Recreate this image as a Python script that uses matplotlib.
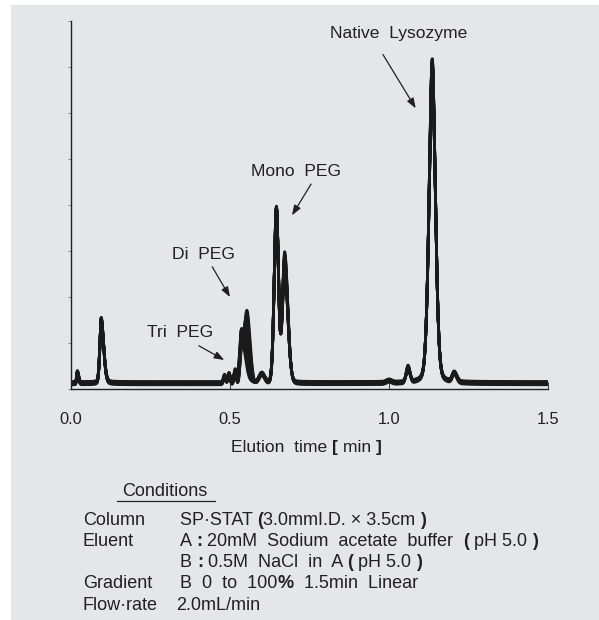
import numpy as np
import matplotlib.pyplot as plt
from matplotlib.patches import Rectangle
from matplotlib.lines import Line2D

plt.rcParams['font.family'] = ['Liberation Sans', 'DejaVu Sans']

INK = '#231f20'
PANEL = '#e5e6e8'

# peaks common to every run: center [min], left/right width, height, lorentz share
fixed_center = [0.020, 0.095, 0.483, 0.497, 0.516, 0.535, 0.600, 0.646, 1.000, 1.205]
fixed_wl = [0.0022, 0.0045, 0.0035, 0.0035, 0.0035, 0.0040, 0.0085, 0.0070, 0.0080, 0.0060]
fixed_wr = [0.0040, 0.0080, 0.0035, 0.0035, 0.0035, 0.0040, 0.0085, 0.0065, 0.0080, 0.0080]
fixed_h = [0.24, 1.40, 0.16, 0.20, 0.25, 0.48, 0.20, 3.80, 0.05, 0.20]
fixed_eta = [0.0, 0.25, 0.0, 0.0, 0.0, 0.0, 0.0, 0.10, 0.0, 0.0]

# run-to-run values (one entry per overlaid chromatogram)
baseline = [0.08, 0.09, 0.10, 0.11, 0.11, 0.12, 0.12, 0.13, 0.14, 0.15]
di_peg_t = [0.553, 0.552, 0.551, 0.549, 0.548, 0.546, 0.545, 0.543, 0.542, 0.540]
di_peg_h = [1.62, 1.52, 1.42, 1.32, 1.22, 1.12, 1.02, 0.92, 0.82, 0.74]
mono2_h = [2.88, 2.82, 2.76, 2.70, 2.64, 2.58, 2.53, 2.48, 2.43, 2.38]
native_h = [7.10, 7.08, 7.06, 7.02, 6.98, 6.96, 6.92, 6.88, 6.84, 6.80]
shoulder_h = [0.40, 0.37, 0.35, 0.33, 0.31, 0.29, 0.27, 0.25, 0.23, 0.21]

x_ticks = [0.0, 0.5, 1.0, 1.5]
x_ticklabels = ['0.0', '0.5', '1.0', '1.5']

labels = ['Native  Lysozyme', 'Mono  PEG', 'Di  PEG', 'Tri  PEG']
label_xy = [(1.031, 7.72), (0.708, 4.72), (0.418, 2.91), (0.343, 1.22)]
arrow_tail = [(0.981, 7.27), (0.755, 4.45), (0.444, 2.65), (0.402, 0.93)]
arrow_head = [(1.084, 6.10), (0.695, 3.77), (0.500, 1.99), (0.482, 0.62)]

SIZE = 12.6
COND_SIZE = 13


def peak(t, c, wl, wr, h, eta=0.0):
    w = np.where(t < c, wl, wr)
    z = (t - c) / w
    return h * ((1 - eta) * np.exp(-0.5 * z ** 2) + eta / (1 + (z * 1.177) ** 2))


def chain(x_px, y_px, parts, size=SIZE):
    # text pieces laid left to right so single glyphs can be bold
    prev = None
    for s, weight in parts:
        if prev is None:
            prev = fig.text(x_px / 599, 1 - y_px / 620, s, fontsize=size, color=INK,
                            fontweight=weight, ha='left', va='baseline')
        else:
            prev = fig.add_artist(plt.Annotation(
                s, xy=(1, 0), xycoords=prev, xytext=(0, 0), textcoords='offset points',
                fontsize=size, color=INK, fontweight=weight, ha='left', va='bottom',
                annotation_clip=False))
    return prev


t = np.linspace(0, 1.5, 4001)

fig = plt.figure(figsize=(5.99, 6.2), dpi=100)
fig.patches.append(Rectangle((11 / 599, 0), 1, 615 / 620, transform=fig.transFigure,
                             facecolor=PANEL, edgecolor='none', zorder=-1))

ax = fig.add_axes([71 / 599, (620 - 388.5) / 620, 477 / 599, 367.5 / 620])
ax.set_facecolor('none')

for i in range(len(baseline)):
    y = np.full_like(t, baseline[i])
    for c, wl, wr, h, eta in zip(fixed_center, fixed_wl, fixed_wr, fixed_h, fixed_eta):
        y += peak(t, c, wl, wr, h, eta)
    y += peak(t, di_peg_t[i], 0.0095, 0.0100, di_peg_h[i])
    y += peak(t, 0.672, 0.0075, 0.0100, mono2_h[i], 0.10)
    y += peak(t, 1.136, 0.0105, 0.0105, native_h[i], 0.30)
    y += peak(t, 1.060, 0.0060, 0.0060, shoulder_h[i])
    ax.plot(t, y, color='#1a1a1a', lw=2.0, solid_joinstyle='round')

ax.set_xlim(0, 1.5)
ax.set_ylim(0, 8)
ax.set_yticks(range(9))
ax.set_yticklabels([])
ax.tick_params(axis='y', direction='out', length=2.5, width=0.6, color='#777777')
ax.set_xticks(x_ticks)
ax.set_xticklabels(x_ticklabels)
ax.tick_params(axis='x', direction='in', length=5, width=0.6, pad=17,
               labelsize=11.8, labelcolor=INK, color=INK)
for side in ['top', 'right']:
    ax.spines[side].set_visible(False)
for side in ['left', 'bottom']:
    ax.spines[side].set_linewidth(1.0)
    ax.spines[side].set_color(INK)

for txt, xy, tail, head in zip(labels, label_xy, arrow_tail, arrow_head):
    ax.text(xy[0], xy[1], txt, fontsize=SIZE, color=INK, ha='center', va='center')
    ax.annotate('', xy=head, xytext=tail,
                arrowprops=dict(arrowstyle='-|>,head_length=0.6,head_width=0.22',
                                color=INK, lw=0.9, shrinkA=0, shrinkB=0))

# x-axis title with heavy brackets
chain(231, 452, [('Elution  time ', 'normal'), ('[', 'bold'), (' min ', 'normal'), (']', 'bold')])

fig.text(122 / 599, 1 - 492 / 620, 'Conditions', fontsize=COND_SIZE, color=INK,
         ha='left', va='center')
fig.add_artist(Line2D([117 / 599, 215 / 599], [1 - 501 / 620] * 2, color=INK, lw=0.9))

rows = [
    (525, 'Column', [('SP·STAT ', 'normal'), ('(', 'bold'), ('3.0mmI.D. × 3.5cm ', 'normal'), (')', 'bold')]),
    (546, 'Eluent', [('A ', 'normal'), (':', 'bold'), (' 20mM  Sodium  acetate  buffer  ', 'normal'),
                     ('(', 'bold'), (' pH 5.0 ', 'normal'), (')', 'bold')]),
    (567, '', [('B ', 'normal'), (':', 'bold'), (' 0.5M  NaCl  in  A ', 'normal'),
               ('(', 'bold'), (' pH 5.0 ', 'normal'), (')', 'bold')]),
    (588, 'Gradient', [('B  0  to  100', 'normal'), ('%', 'bold'), ('  1.5min  Linear', 'normal')]),
    (610, 'Flow·rate', [('2.0mL/min', 'normal')]),
]
for y_px, name, parts in rows:
    if name:
        fig.text(83 / 599, 1 - y_px / 620, name, fontsize=COND_SIZE, color=INK,
                 ha='left', va='baseline')
    x0 = 176 if name == 'Flow·rate' else 180
    chain(x0, y_px, parts, size=COND_SIZE)

fig.savefig('out.png', dpi=100)
